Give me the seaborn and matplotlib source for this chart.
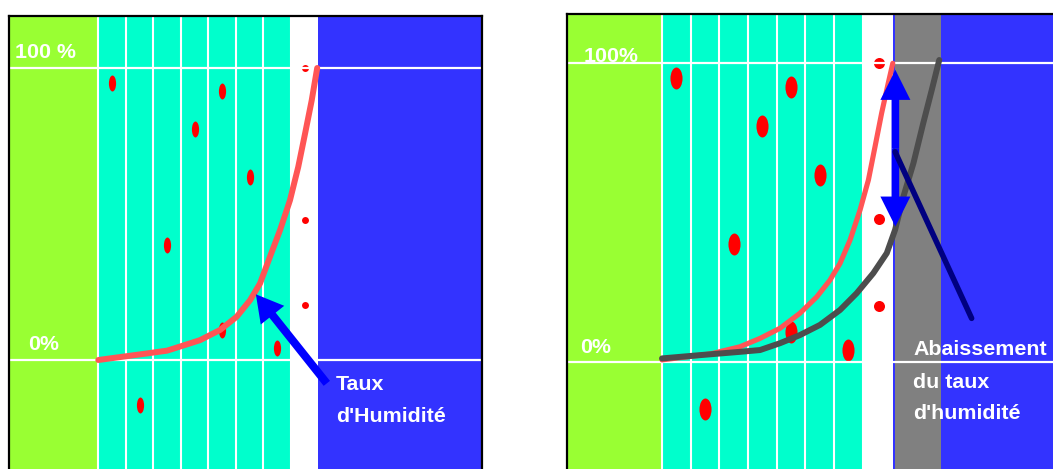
import numpy as np
import matplotlib
matplotlib.use("Agg")
import matplotlib.pyplot as plt
from matplotlib.path import Path
from matplotlib.patches import FancyArrowPatch, ArrowStyle
import seaborn as sns

sns.set_theme(style="white")
plt.rcParams['font.family'] = ['Liberation Sans', 'DejaVu Sans']

# ---------------- data ----------------
level_values = [0, 100]
labels_left = ["0%", "100 %"]
labels_right = ["0%", "100%"]
column_edges = [0, 1, 2, 3, 4, 5, 6, 7]

# droplets inside the columns (column centre, humidity %)
drop_x = [0.5, 4.5, 3.5, 5.5, 2.5, 4.5, 6.5, 1.5]
drop_y = [95, 92, 79, 62.5, 39.5, 10.3, 4.2, -15.5]
# droplets in the white strip
strip_y = [100, 48, 18.8]
strip_x_left = [7.5, 7.5, 7.5]
strip_x_right = [7.56, 7.56, 7.56]

# humidity curve, left panel
left_curve_x = [0, 1.5, 2.5, 2.97, 3.70, 4.43, 5.03, 5.52, 5.88, 6.24, 6.61, 6.97, 7.27, 7.52, 7.76, 7.96]
left_curve_y = [0, 1.9, 3.2, 4.6, 6.8, 10.3, 14.8, 20.5, 26.2, 35.3, 44.5, 54.7, 66.1, 77.6, 88.9, 100]

# humidity curve, right panel (red) and lowered curve (dark grey)
right_curve_x = [0, 1.69, 2.72, 3.42, 4.12, 4.81, 5.40, 5.86, 6.21, 6.56, 6.91, 7.20, 7.43, 7.66, 7.89, 8.05]
right_curve_y = [0.8, 2.8, 5.2, 8.0, 11.4, 16.4, 21.9, 27.5, 33.1, 40.9, 51.0, 61.0, 72.1, 83.3, 93.3, 100]
lowered_x = [0, 1.33, 2.72, 3.42, 4.12, 4.81, 5.51, 6.21, 6.79, 7.37, 7.84, 8.13, 8.42, 8.77, 9.11, 9.41, 9.67]
lowered_y = [1.3, 2.4, 3.5, 4.1, 6.4, 9.1, 12.5, 17.5, 23.1, 29.8, 36.5, 44.3, 55.4, 66.6, 79.9, 91.1, 101.1]

# ---------------- style ----------------
GREEN = "#99FF33"
CYAN = "#00FFCC"
BLUE = "#3333FF"
GRAY = "#808080"
RED = "#FF0000"
CURVE_RED = "#FF5555"
DARK = "#4D4D4D"
NAVY = "#000080"
ARROW_BLUE = "#0000FF"
FS = 15.4

W, H = 1053, 469
fig = plt.figure(figsize=(W / 100, H / 100), dpi=100)
fig.patch.set_facecolor("white")


def ellipse_marker(aspect):
    c = Path.unit_circle()
    return Path(c.vertices * np.array([aspect, 1.0]), c.codes)


def make_axes(px_left, px_right, px_top, x0, colw, y0, per):
    ax = fig.add_axes([px_left / W, 0, (px_right - px_left) / W, (H - px_top) / H])
    ax.set_xlim((px_left - x0) / colw, (px_right - x0) / colw)
    ax.set_ylim((y0 - H) / per, (y0 - px_top) / per)
    ax.set_xticks([])
    ax.set_yticks([])
    ax.set_facecolor("white")
    return ax


def base_layer(ax, strip_end, extra_gray=None):
    xmin, xmax = ax.get_xlim()
    ax.axvspan(xmin, column_edges[0], color=GREEN, lw=0, zorder=0)
    ax.axvspan(column_edges[0], column_edges[-1], color=CYAN, lw=0, zorder=0)
    ax.axvspan(strip_end, xmax, color=BLUE, lw=0, zorder=0)
    if extra_gray is not None:
        ax.axvspan(extra_gray[0], extra_gray[1], color=GRAY, lw=0, zorder=0.5)
    for e in column_edges:
        ax.axvline(e, color="white", lw=1.5, zorder=1)
    for v in level_values:
        ax.axhline(v, color="white", lw=1.6, zorder=1.2)


def style_spines(ax, right=True):
    for s in ["left", "top", "right", "bottom"]:
        ax.spines[s].set_visible(False)
    ax.spines["left"].set_visible(True)
    ax.spines["top"].set_visible(True)
    ax.spines["right"].set_visible(right)
    for s in ["left", "top", "right"]:
        ax.spines[s].set_color("black")
        ax.spines[s].set_linewidth(1.6)
        ax.spines[s].set_zorder(10)


def simple_arrow(ax, a, b, hl, hw, tw):
    st = ArrowStyle.Simple(head_length=hl, head_width=hw, tail_width=tw)
    p = FancyArrowPatch(a, b, arrowstyle=st, mutation_scale=1, color=ARROW_BLUE,
                        lw=0, shrinkA=0, shrinkB=0, zorder=4)
    ax.add_patch(p)


# ---------------- left panel ----------------
axL = make_axes(9, 481.7, 15.7, 98.3, 27.5, 360, 2.92)
base_layer(axL, 8.0)
style_spines(axL, right=True)

sns.scatterplot(x=drop_x, y=drop_y, ax=axL, marker=ellipse_marker(0.45), s=132,
                color=RED, linewidth=0, zorder=1.1)
sns.scatterplot(x=strip_x_left, y=strip_y, ax=axL, marker="o", s=25,
                color=RED, linewidth=0, zorder=1.1)
sns.lineplot(x=left_curve_x, y=left_curve_y, ax=axL, sort=False, estimator=None,
             color=CURVE_RED, linewidth=4.3, solid_capstyle="round", zorder=3)

simple_arrow(axL, (8.31, -8.0), (5.73, 22.5), 19.2, 21.6, 5.8)

axL.text(-3.03, 103.3, labels_left[1], color="white", fontsize=FS, fontweight="bold",
         ha="left", va="baseline", zorder=5)
axL.text(-2.55, 3.4, labels_left[0], color="white", fontsize=FS, fontweight="bold",
         ha="left", va="baseline", zorder=5)
axL.text(8.64, -10.3, "Taux", color="white", fontsize=FS, fontweight="bold",
         ha="left", va="baseline", zorder=5)
axL.text(8.64, -21.1, "d'Humidité", color="white", fontsize=FS, fontweight="bold",
         ha="left", va="baseline", zorder=5)
axL.set_xlabel("")
axL.set_ylabel("")

# ---------------- right panel ----------------
axR = make_axes(567.3, 1053, 14, 662, 28.67, 362.3, 2.99)
base_layer(axR, 8.05, extra_gray=(8.14, 9.72))
style_spines(axR, right=False)

sns.scatterplot(x=drop_x, y=drop_y, ax=axR, marker=ellipse_marker(0.55), s=250,
                color=RED, linewidth=0, zorder=1.1)
sns.scatterplot(x=strip_x_right, y=strip_y, ax=axR, marker=ellipse_marker(1.0), s=63,
                color=RED, linewidth=0, zorder=1.1)
sns.lineplot(x=right_curve_x, y=right_curve_y, ax=axR, sort=False, estimator=None,
             color=CURVE_RED, linewidth=3.7, solid_capstyle="round", zorder=3)
sns.lineplot(x=lowered_x, y=lowered_y, ax=axR, sort=False, estimator=None,
             color=DARK, linewidth=4.3, solid_capstyle="round", zorder=3.1)

# double arrow showing the lowering
simple_arrow(axR, (8.14, 71.6), (8.14, 97.8), 21.6, 21.6, 5.5)
simple_arrow(axR, (8.14, 71.6), (8.14, 45.4), 21.6, 21.6, 5.5)
axR.plot([8.13, 10.80], [70.4, 14.7], color=NAVY, lw=4.0, solid_capstyle="round", zorder=4.5)

axR.text(-2.745, 100.3, labels_right[1], color="white", fontsize=FS, fontweight="bold",
         ha="left", va="baseline", zorder=5)
axR.text(-2.84, 3.2, labels_right[0], color="white", fontsize=FS, fontweight="bold",
         ha="left", va="baseline", zorder=5)
for yy, line in zip([2.4, -8.5, -19.1], ["Abaissement", "du taux", "d'humidité"]):
    axR.text(8.77, yy, line, color="white", fontsize=FS, fontweight="bold",
             ha="left", va="baseline", zorder=5)
axR.set_xlabel("")
axR.set_ylabel("")

fig.savefig("out.png", dpi=100)
